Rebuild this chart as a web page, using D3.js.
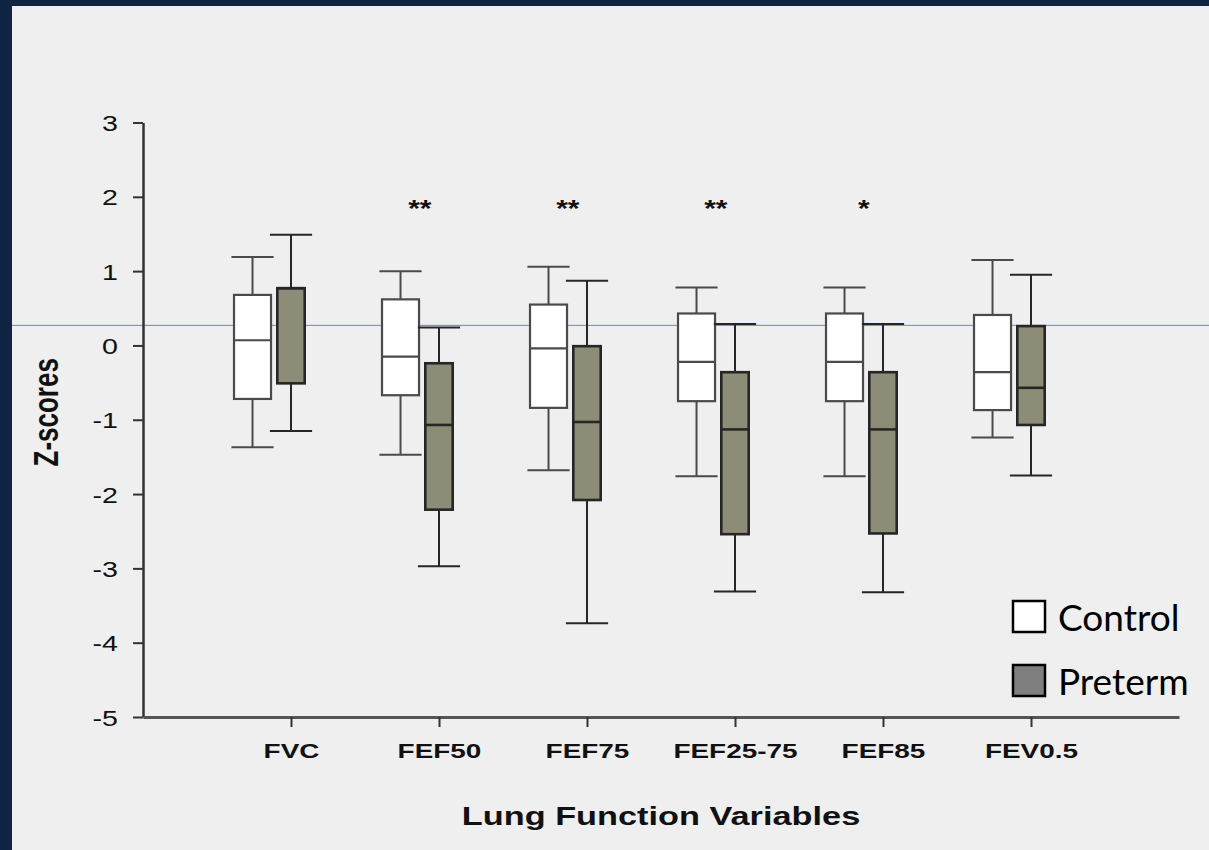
<!DOCTYPE html>
<html>
<head>
<meta charset="utf-8">
<script src="https://cdn.jsdelivr.net/npm/d3@7"></script>
<style>
  html, body { margin: 0; padding: 0; background: #0f2442; }
  svg { display: block; }
</style>
</head>
<body>
<div id="chart"></div>
<script>
  // Lung function z-scores, control vs preterm (box = IQR, whiskers = range)
  const categories = ['FVC', 'FEF50', 'FEF75', 'FEF25-75', 'FEF85', 'FEV0.5'];

  const controlMin = [-1.37, -1.47, -1.68, -1.76, -1.76, -1.24];
  const controlQ1  = [-0.72, -0.67, -0.84, -0.75, -0.75, -0.87];
  const controlMed = [ 0.07, -0.15, -0.04, -0.22, -0.22, -0.36];
  const controlQ3  = [ 0.68,  0.62,  0.55,  0.43,  0.43,  0.41];
  const controlMax = [ 1.19,  1.00,  1.06,  0.78,  0.78,  1.15];

  const pretermMin = [-1.15, -2.97, -3.74, -3.31, -3.32, -1.75];
  const pretermQ1  = [-0.51, -2.21, -2.08, -2.54, -2.53, -1.07];
  const pretermMed = [ 0.77, -1.07, -1.03, -1.13, -1.13, -0.57];
  const pretermQ3  = [ 0.77, -0.24, -0.01, -0.36, -0.36,  0.26];
  const pretermMax = [ 1.49,  0.24,  0.87,  0.29,  0.29,  0.95];

  const significance = ['', '**', '**', '**', '*', ''];
  const starLevel = 1.88;
  const refLine = 0.27;

  const yTicks = [3, 2, 1, 0, -1, -2, -3, -4, -5];
  const legendLabels = ['Control', 'Preterm'];

  const COLORS = {
    frame: '#0f2442',
    bg: '#efefef',
    control: '#ffffff',
    preterm: '#8d8c76',
    legendPreterm: '#7f7f7f',
    axis: '#333333',
    xAxis: '#555555',
    ref: '#7387a8',
    text: '#111111',
  };

  const W = 1209, H = 850;
  const FONT = '"Liberation Sans", Arial, sans-serif';

  const svg = d3.select('#chart').append('svg')
    .attr('width', W).attr('height', H);

  svg.append('rect').attr('width', W).attr('height', H).attr('fill', COLORS.frame);
  svg.append('rect')
    .attr('x', 12).attr('y', 6)
    .attr('width', W - 12).attr('height', H - 6)
    .attr('fill', COLORS.bg);

  const x = d3.scaleLinear().domain([0, categories.length + 1]).range([143, 1179]);
  const y = d3.scaleLinear().domain([-5, 3]).range([717, 122.5]);
  const step = x(1) - x(0);

  // reference line across the whole slide
  svg.append('line')
    .attr('x1', 12).attr('x2', W)
    .attr('y1', y(refLine)).attr('y2', y(refLine))
    .attr('stroke', COLORS.ref).attr('stroke-width', 1);

  // --- Axes ---
  const yAxis = svg.append('g')
    .attr('transform', `translate(${x(0)},0)`)
    .call(d3.axisLeft(y).tickValues(yTicks).tickSize(10).tickSizeOuter(0).tickFormat(d => String(d)));
  yAxis.select('.domain').attr('stroke', COLORS.axis).attr('stroke-width', 2.5);
  yAxis.selectAll('.tick line').attr('stroke', COLORS.axis).attr('stroke-width', 2);
  yAxis.selectAll('.tick text')
    .attr('x', null).attr('dy', null)
    .attr('transform', 'translate(-25,8) scale(1.3,1)')
    .attr('fill', COLORS.text)
    .attr('font-family', FONT)
    .attr('font-size', '22px');

  const xAxis = svg.append('g')
    .attr('transform', `translate(0,${y(-5)})`)
    .call(d3.axisBottom(x).tickValues(d3.range(1, categories.length + 1))
      .tickSize(10).tickSizeOuter(0).tickFormat(i => categories[i - 1]));
  xAxis.select('.domain').attr('stroke', COLORS.xAxis).attr('stroke-width', 3);
  xAxis.selectAll('.tick line').attr('stroke', COLORS.axis).attr('stroke-width', 2);
  xAxis.selectAll('.tick text')
    .attr('y', null).attr('dy', null)
    .attr('transform', 'translate(0,41) scale(1.33,1)')
    .attr('fill', COLORS.text)
    .attr('font-family', FONT)
    .attr('font-weight', '700')
    .attr('font-size', '21px');
  svg.selectAll('.domain').attr('fill', 'none');

  // Axis titles
  svg.append('text')
    .attr('transform', `translate(${(x(0) + x(categories.length + 1)) / 2},825) scale(1.32,1)`)
    .attr('text-anchor', 'middle')
    .attr('fill', COLORS.text)
    .attr('font-family', FONT)
    .attr('font-weight', '700')
    .attr('font-size', '26px')
    .text('Lung Function Variables');

  svg.append('text')
    .attr('transform', `translate(58,${y(-0.9)}) scale(1.35,1) rotate(-90)`)
    .attr('text-anchor', 'middle')
    .attr('fill', COLORS.text)
    .attr('font-family', FONT)
    .attr('font-weight', '700')
    .attr('font-size', '26px')
    .text('Z-scores');

  // --- Box plots ---
  function drawBox(g, cx, width, lo, q1, med, q3, hi, fill, stroke, sw) {
    const capW = step * 0.285;
    // whiskers
    g.append('line')
      .attr('x1', cx).attr('x2', cx).attr('y1', y(hi)).attr('y2', y(q3))
      .attr('stroke', stroke).attr('stroke-width', 2);
    g.append('line')
      .attr('x1', cx).attr('x2', cx).attr('y1', y(q1)).attr('y2', y(lo))
      .attr('stroke', stroke).attr('stroke-width', 2);
    [hi, lo].forEach(v => {
      g.append('line')
        .attr('x1', cx - capW / 2).attr('x2', cx + capW / 2)
        .attr('y1', y(v)).attr('y2', y(v))
        .attr('stroke', stroke).attr('stroke-width', 2);
    });
    // box
    g.append('rect')
      .attr('x', cx - width / 2).attr('y', y(q3))
      .attr('width', width).attr('height', y(q1) - y(q3))
      .attr('fill', fill).attr('stroke', stroke).attr('stroke-width', sw);
    // median
    g.append('line')
      .attr('x1', cx - width / 2).attr('x2', cx + width / 2)
      .attr('y1', y(med)).attr('y2', y(med))
      .attr('stroke', stroke).attr('stroke-width', sw);
  }

  const boxes = svg.append('g');
  categories.forEach((c, i) => {
    const cx = x(i + 1);
    drawBox(boxes, cx - step * 0.26, step * 0.25,
      controlMin[i], controlQ1[i], controlMed[i], controlQ3[i], controlMax[i],
      COLORS.control, '#4a4a4a', 2.2);
    drawBox(boxes, cx, step * 0.185,
      pretermMin[i], pretermQ1[i], pretermMed[i], pretermQ3[i], pretermMax[i],
      COLORS.preterm, '#262626', 2.6);
  });

  // significance stars
  svg.append('g').selectAll('text')
    .data(significance)
    .join('text')
    .attr('transform', (d, i) => `translate(${x(i + 1) - step * 0.13},${y(starLevel) + 11}) scale(1.3,1)`)
    .attr('text-anchor', 'middle')
    .attr('fill', COLORS.text)
    .attr('font-family', FONT)
    .attr('font-weight', '700')
    .attr('font-size', '23px')
    .text(d => d);

  // --- Legend ---
  const legend = svg.append('g').attr('transform', 'translate(1013,601)');
  const legendFills = [COLORS.control, COLORS.legendPreterm];
  legendLabels.forEach((label, i) => {
    const row = legend.append('g').attr('transform', `translate(0,${i * 64})`);
    row.append('rect')
      .attr('width', 32).attr('height', 31)
      .attr('fill', legendFills[i])
      .attr('stroke', '#000').attr('stroke-width', 2.5);
    row.append('text')
      .attr('x', 45).attr('y', 30)
      .attr('fill', '#000')
      .attr('font-family', 'Lato, "Open Sans", sans-serif')
      .attr('font-size', '37px')
      .text(label);
  });
</script>
</body>
</html>
